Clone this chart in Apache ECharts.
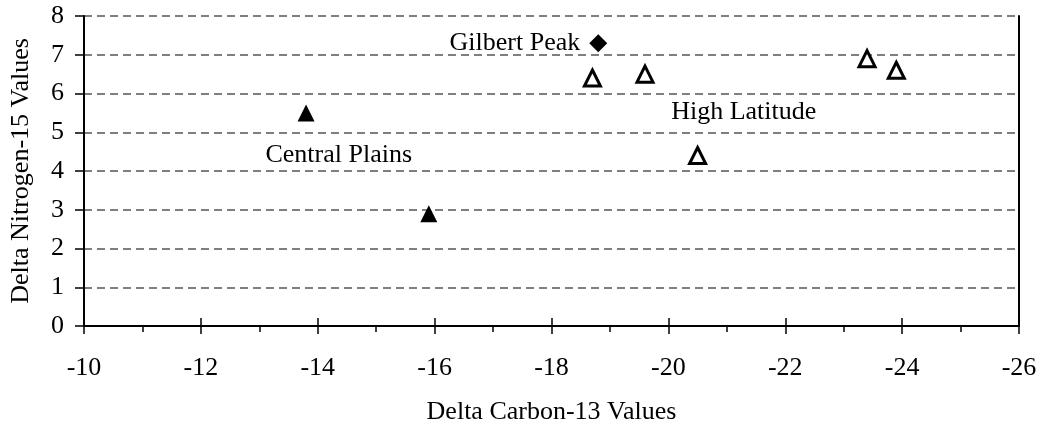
<!DOCTYPE html>
<html>
<head>
<meta charset="utf-8">
<script src="https://cdn.jsdelivr.net/npm/echarts@6/dist/echarts.min.js"></script>
<style>html,body{margin:0;padding:0;background:#fff}#c{width:1042px;height:430px}</style>
</head>
<body>
<div id="c"></div>
<script>
// Data
var centralPlains = [[-13.8, 5.5], [-15.9, 2.9]];
var gilbertPeak = [[-18.8, 7.3]];
var highLatitude = [[-18.7, 6.4], [-19.6, 6.5], [-23.4, 6.9], [-23.9, 6.6], [-20.5, 4.4]];
var annotations = [
  {name: 'Central Plains', value: [-14.36, 4.42]},
  {name: 'High Latitude', value: [-21.29, 5.53]}
];
var xName = 'Delta Carbon-13 Values';
var yName = 'Delta Nitrogen-15 Values';
var xMin = -26, xMax = -10, xStep = 2;
var yMin = 0, yMax = 8, yStep = 1;

var FONT = 'Liberation Serif';
var FS = 26;
var chart = echarts.init(document.getElementById('c'), null, {renderer: 'canvas'});
var baseX = {
  type: 'value', min: xMin, max: xMax, interval: xStep, inverse: true,
  position: 'bottom', splitLine: {show: false}
};
chart.setOption({
  animation: false,
  backgroundColor: '#fff',
  grid: {left: 83, right: 23, top: 16, bottom: 103, containLabel: false},
  xAxis: [
    Object.assign({}, baseX, {
      name: xName, nameLocation: 'middle', nameGap: 73,
      nameTextStyle: {fontFamily: FONT, fontSize: FS, color: '#000'},
      axisLine: {show: true, lineStyle: {color: '#000', width: 2}},
      axisTick: {show: true, inside: false, length: 8, lineStyle: {color: '#000', width: 1.5}},
      minorTick: {show: true, splitNumber: 2, length: 6, lineStyle: {color: '#000', width: 1.5}},
      axisLabel: {fontFamily: FONT, fontSize: FS, color: '#000', margin: 29}
    }),
    Object.assign({}, baseX, {
      axisLine: {show: false},
      axisTick: {show: true, inside: true, length: 8, lineStyle: {color: '#000', width: 1.5}},
      axisLabel: {show: false}
    })
  ],
  yAxis: [
    {
      type: 'value', min: yMin, max: yMax, interval: yStep, position: 'left',
      name: yName, nameLocation: 'middle', nameGap: 50, nameRotate: 90,
      nameTextStyle: {fontFamily: FONT, fontSize: FS, color: '#000'},
      axisLine: {show: true, lineStyle: {color: '#000', width: 2}},
      axisTick: {show: true, inside: false, length: 9, lineStyle: {color: '#000', width: 1.5}},
      axisLabel: {fontFamily: FONT, fontSize: FS, color: '#000', margin: 20},
      splitLine: {show: true, lineStyle: {color: '#555', width: 1.5, type: [8, 5]}}
    },
    {
      type: 'value', min: yMin, max: yMax, interval: yStep, position: 'right',
      axisLine: {show: true, onZero: false, lineStyle: {color: '#000', width: 2}},
      axisTick: {show: false}, axisLabel: {show: false}, splitLine: {show: false}
    }
  ],
  series: [
    {
      name: 'Central Plains', type: 'scatter', data: centralPlains,
      symbol: 'triangle', symbolSize: 17,
      itemStyle: {color: '#000', opacity: 1}
    },
    {
      name: 'Gilbert Peak', type: 'scatter', data: gilbertPeak,
      symbol: 'diamond', symbolSize: 18,
      itemStyle: {color: '#000', opacity: 1},
      label: {show: true, position: 'left', distance: 9, formatter: 'Gilbert Peak',
        fontFamily: FONT, fontSize: FS, color: '#000'}
    },
    {
      name: 'High Latitude', type: 'scatter', data: highLatitude,
      symbol: 'triangle', symbolSize: 16,
      itemStyle: {color: '#fff', borderColor: '#000', borderWidth: 3, opacity: 1}
    },
    {
      name: 'labels', type: 'scatter', data: annotations,
      symbol: 'circle', symbolSize: 1, silent: true,
      itemStyle: {color: 'rgba(0,0,0,0)', opacity: 1},
      label: {show: true, position: 'inside', formatter: function(p){return p.name;},
        fontFamily: FONT, fontSize: FS, color: '#000'}
    }
  ]
});
</script>
</body>
</html>
